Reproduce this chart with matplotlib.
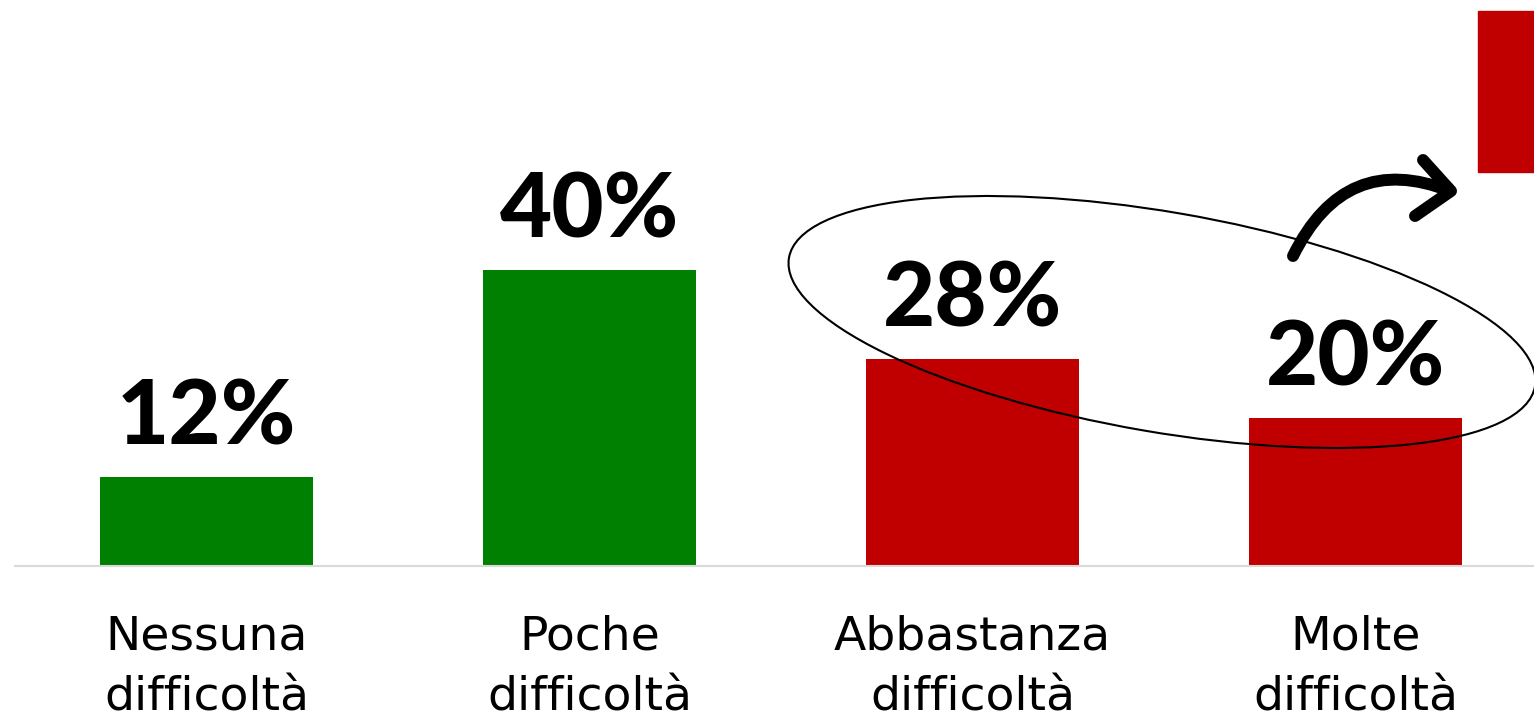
import matplotlib
matplotlib.use('Agg')
import matplotlib.pyplot as plt
from matplotlib.patches import Ellipse, Rectangle
from matplotlib.path import Path
from matplotlib.patches import PathPatch

# dati
categorie = ["Nessuna\ndifficoltà", "Poche\ndifficoltà", "Abbastanza\ndifficoltà", "Molte\ndifficoltà"]
valori = [12, 40, 28, 20]
etichette = ["12%", "40%", "28%", "20%"]
colori = ["#008000", "#008000", "#C00000", "#C00000"]

fig = plt.figure(figsize=(15.34, 7.19), dpi=100)
ax = fig.add_axes([15 / 1534, 1 - 566 / 719, 1 - 15 / 1534, 566 / 719])

x = range(len(valori))
ax.bar(x, valori, width=0.556, color=colori, zorder=2)
ax.set_xlim(-0.5, 3.466)
ax.set_ylim(0, 76.5)

for xi, v, t in zip(x, valori, etichette):
    ax.annotate(t, (xi, v), xytext=(0, 23.5), textcoords="offset points",
                ha="center", va="baseline", fontsize=65, fontweight="black",
                family="Lato", color="black")

ax.set_xticks(list(x))
ax.set_xticklabels(categorie, fontsize=34, family="DejaVu Sans", linespacing=1.45)
ax.tick_params(axis="x", length=0, pad=35)
ax.set_yticks([])
for s in ["top", "right", "left"]:
    ax.spines[s].set_visible(False)
ax.spines["bottom"].set_color("#d9d9d9")
ax.spines["bottom"].set_linewidth(1.5)

# livello annotazioni in pixel
ov = fig.add_axes([0, 0, 1, 1])
ov.set_xlim(0, 1534)
ov.set_ylim(719, 0)
ov.axis("off")

ov.add_patch(Ellipse((1162, 322), 757, 220, angle=9.77, fill=False, ec="black", lw=1.5))

curva = Path([(1293, 256), (1345, 150), (1450, 191)], [Path.MOVETO, Path.CURVE3, Path.CURVE3])
ov.add_patch(PathPatch(curva, fill=False, ec="black", lw=8.6, capstyle="round"))
ov.plot([1423, 1451, 1415], [160, 191, 216], color="black", lw=8.6,
        solid_capstyle="round", solid_joinstyle="round")

ov.add_patch(Rectangle((1478, 11), 80, 161, color="#C00000"))

fig.savefig("out.png", dpi=100)
